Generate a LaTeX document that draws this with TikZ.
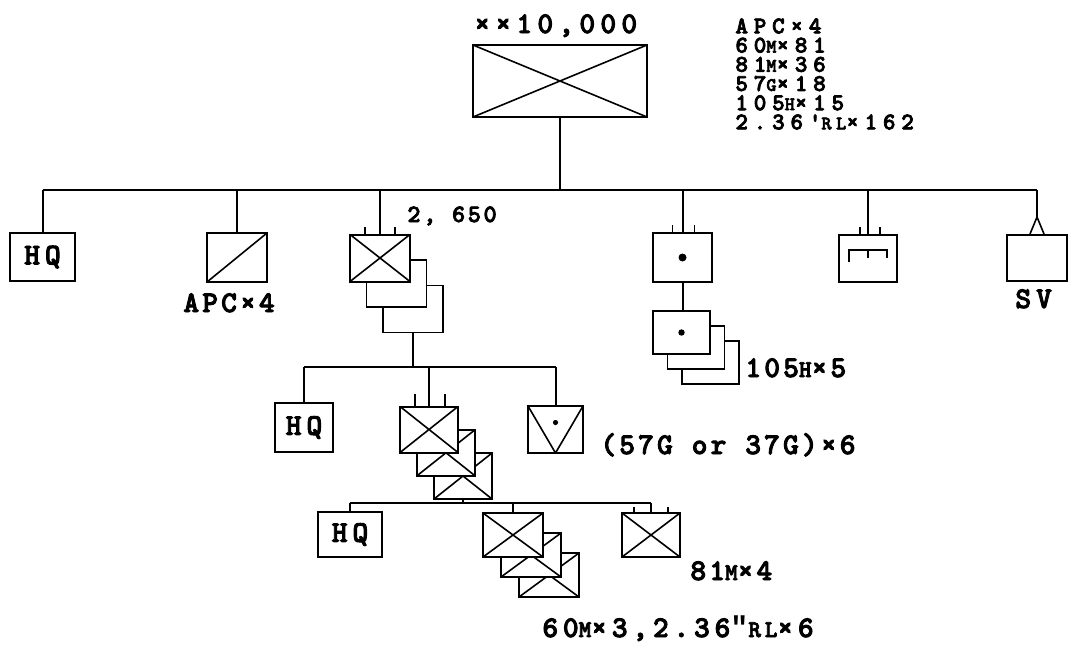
\documentclass[tikz,border=0pt]{standalone}
\usepackage{fontspec}
\newfontfamily\twA[LetterSpace=10.5,FakeBold=3]{lmmonolt10-bold.otf}
\newfontfamily\twB[LetterSpace=24,FakeBold=3]{lmmonolt10-bold.otf}
\newfontfamily\twC[LetterSpace=16,FakeBold=3]{lmmonolt10-bold.otf}
\newfontfamily\twD[LetterSpace=17.5,FakeBold=3]{lmmonolt10-bold.otf}
\newfontfamily\libm{Liberation Mono}
\usetikzlibrary{calc}
\newcommand\lowc[1]{\scalebox{0.8}{#1}}
\newcommand\dprime{{\libm\bfseries ″}}
\tikzset{
  unit/.style={draw, line width=1pt, fill=white, inner sep=0pt},
  backunit/.style={draw, line width=0.8pt, fill=white, inner sep=0pt},
  sz/.style 2 args={minimum width=#1, minimum height=#2},
  crossed/.style={path picture={\draw[black, line width=0.8pt]
     (path picture bounding box.north west)--(path picture bounding box.south east)
     (path picture bounding box.south west)--(path picture bounding box.north east);}},
  slashed/.style={path picture={\draw[black, line width=0.8pt]
     (path picture bounding box.south west)--(path picture bounding box.north east);}},
  vee/.style={path picture={\draw[black, line width=0.8pt]
     (path picture bounding box.north west)--(path picture bounding box.south)--(path picture bounding box.north east);
     \fill[black] ($(path picture bounding box.center)+(0,-7)$) circle (1.3pt);}},
  dotted unit/.style={path picture={\fill[black] (path picture bounding box.center) circle (#1);}},
  link/.style={line width=1pt},
  tick/.style={line width=0.8pt},
  lblA/.style={anchor=base west, inner sep=0pt, font=\twA\fontsize{15}{15}\selectfont},
  lblB/.style={anchor=north west, inner sep=0pt, align=left, font=\twB\fontsize{12}{9.6}\selectfont},
  lblC/.style={anchor=base west, inner sep=0pt, font=\twC\fontsize{15}{15}\selectfont},
  lblD/.style={anchor=base west, inner sep=0pt, font=\twD\fontsize{15}{15}\selectfont},
  lblS/.style={anchor=base west, inner sep=0pt, font=\twA\fontsize{12.5}{12.5}\selectfont},
  hqfont/.style={font=\twA\fontsize{15}{15}\selectfont},
}
\begin{document}
\begin{tikzpicture}[x=0.5pt,y=-0.5pt]
\useasboundingbox (0,0) rectangle (1069,653);
\coordinate (bus1) at (0,190);
\coordinate (bus2) at (0,367);
\coordinate (bus3) at (0,503);

% division
\node[unit, sz={87pt}{36pt}, crossed] (div) at (560,81) {};
\node[lblD] (divlbl) at (474,33) {××10,000};
\node[lblB] (tr) at (735,18) {APC×4\\60\lowc{M}×81\\81\lowc{M}×36\\57\lowc{G}×18\\105\lowc{H}×15\\2.36'\lowc{RL}×162};

% row 1
\node[unit, sz={32.5pt}{24pt}, hqfont] (hq1) at (42.5,257) {H\,Q};
\node[unit, sz={30pt}{24.5pt}, slashed] (apc) at (237,257.5) {};
\node[lblA] (apclbl) at (183,312) {APC×4};

\node[backunit, sz={30pt}{23.5pt}] (regC) at (413,309) {};
\node[backunit, sz={30pt}{23.5pt}] (regB) at (396.5,283.5) {};
\node[unit, sz={30pt}{23.5pt}, crossed] (regA) at (380,258) {};
\node[lblS] (reglbl) at (407,222) {2, 650};

\node[unit, sz={29.5pt}{24.5pt}, dotted unit=2pt] (art) at (682.5,257.5) {};
\node[backunit, sz={28.5pt}{21.5pt}] (batyC) at (710.5,362.5) {};
\node[backunit, sz={28.5pt}{21.5pt}] (batyB) at (696,347.5) {};
\node[unit, sz={28.5pt}{21.5pt}, dotted unit=1.6pt] (batyA) at (681.5,332.5) {};
\node[lblA] (batylbl) at (745,377) {105\lowc{H}×5};

\node[unit, sz={29pt}{23.5pt}] (eng) at (868,258.5) {};
\node[unit, sz={30pt}{23pt}] (sv) at (1037,258) {};
\node[lblA] (svlbl) at (1015,308) {S\,V};

% row 1 connectors
\draw[link] (div.south) -- (div.south |- bus1);
\draw[link] (hq1.north |- bus1) -- (sv.north |- bus1);
\draw[link] (hq1.north) -- (hq1.north |- bus1);
\draw[link] (apc.north) -- (apc.north |- bus1);
\draw[link] (regA.north) -- (regA.north |- bus1);
\draw[link] (art.north) -- (art.north |- bus1);
\draw[link] (eng.north) -- (eng.north |- bus1);
\coordinate (svapex) at ($(sv.north)+(0,-17)$);
\draw[link] (svapex) -- (svapex |- bus1);
\draw[tick] ($(sv.north)+(-7,0)$) -- (svapex) -- ($(sv.north)+(7,0)$);
\draw[link] (art.south) -- (art.south |- batyA.north);
% ticks
\draw[tick] ($(regA.north)+(-15,0)$) -- ++(0,-7);
\draw[tick] ($(regA.north)+(15,0)$) -- ++(0,-7);
\draw[tick] ($(art.north)+(-10,0)$) -- ++(0,-7);
\draw[tick] ($(art.north)+(12,0)$) -- ++(0,-7);
\draw[tick] ($(eng.north)+(-8,0)$) -- ++(0,-7);
\draw[tick] ($(eng.north)+(12,0)$) -- ++(0,-7);
% engineer symbol
\draw[tick] (849,262) -- (849,250) -- (887,250) -- (887,258);
\draw[tick] (868,250) -- (868,258);

% row 2
\node[unit, sz={29pt}{24.5pt}, hqfont] (hq2) at (304,427.5) {H\,Q};
\node[backunit, sz={29pt}{23pt}, crossed] (batC) at (463,476) {};
\node[backunit, sz={29pt}{23pt}, crossed] (batB) at (446,452.75) {};
\node[unit, sz={29pt}{23pt}, crossed] (batA) at (429,429.5) {};
\node[unit, sz={27.5pt}{23.5pt}, vee] (at) at (555.5,429.5) {};
\node[lblA] (atlbl) at (600,454) {(57G or 37G)×6};

\draw[link] (regC.south) -- (regC.south |- bus2);
\draw[link] (hq2.north |- bus2) -- (at.north |- bus2);
\draw[link] (hq2.north) -- (hq2.north |- bus2);
\draw[link] (batA.north) -- (batA.north |- bus2);
\draw[link] (at.north) -- (at.north |- bus2);
\draw[tick] ($(batA.north)+(-14,0)$) -- ++(0,-12);
\draw[tick] ($(batA.north)+(16,0)$) -- ++(0,-12);

% row 3
\node[unit, sz={32pt}{22.5pt}, hqfont] (hq3) at (350,534.5) {H\,Q};
\node[backunit, sz={30pt}{22pt}, crossed] (coC) at (549,575) {};
\node[backunit, sz={30pt}{22pt}, crossed] (coB) at (531,555) {};
\node[unit, sz={30pt}{22pt}, crossed] (coA) at (513,535) {};
\node[unit, sz={29pt}{22pt}, crossed] (wpn) at (651,535) {};
\node[lblA] (wpnlbl) at (690,580) {81\lowc{M}×4};
\node[lblC] (colbl) at (542,637) {60\lowc{M}×3,2.36\dprime\lowc{RL}×6};

\draw[link] (batC.south) -- (batC.south |- bus3);
\draw[link] (hq3.north |- bus3) -- (wpn.north |- bus3);
\draw[link] (hq3.north) -- (hq3.north |- bus3);
\draw[link] (coA.north) -- (coA.north |- bus3);
\draw[link] (wpn.north) -- (wpn.north |- bus3);
\draw[tick] ($(wpn.north)+(-17,0)$) -- ++(0,-5);
\draw[tick] ($(wpn.north)+(17,0)$) -- ++(0,-5);
\end{tikzpicture}
\end{document}
